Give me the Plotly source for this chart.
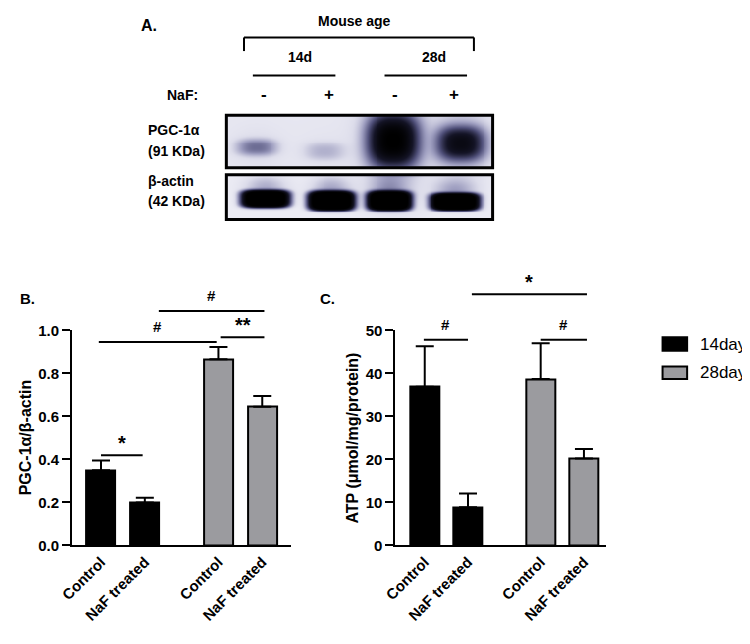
import numpy as np
import plotly.graph_objects as go

W, H = 750, 644
OFF = 8  # the page body margin shifts the figure by this many pixels
FW, FH = W - OFF, H - OFF

# ---- data ----
groups = ["Control", "NaF treated", "Control", "NaF treated"]
bar_x = [0, 1, 2.68, 3.68]

pgc_14 = [0.35, 0.20]
pgc_14_err = [0.045, 0.022]
pgc_28 = [0.866, 0.645]
pgc_28_err = [0.057, 0.050]

atp_14 = [36.9, 8.9]
atp_14_err = [9.4, 3.2]
atp_28 = [38.7, 20.2]
atp_28_err = [8.3, 2.2]

# relative band darkness on the blot, lanes: 14d -, 14d +, 28d -, 28d +
pgc_band = [0.22, 0.09, 1.0, 0.7]
actin_band = [0.9, 1.0, 1.0, 1.0]

FONT = "Arial, Liberation Sans, sans-serif"
BLACK = "#000000"
GREY = "#9b9b9f"


def px(x, y):
    return (x - OFF) / FW, 1 - (y - OFF) / FH


# ---- panel geometry (pixels in the reference) ----
b_left, b_right = 60, 283
c_left, c_right = 389, 603
ax_top, ax_bot = 330, 551
ydom = [px(0, ax_bot)[1], px(0, ax_top)[1]]
xr = [-0.66, 4.34]
xr_c = [-0.68, 4.18]

fig = go.Figure()


def add_bars(xa, ya, v14, e14, v28, e28):
    for xs, vals, errs, col in [(bar_x[:2], v14, e14, BLACK), (bar_x[2:], v28, e28, GREY)]:
        fig.add_trace(go.Bar(
            x=xs, y=vals, width=0.66, xaxis=xa, yaxis=ya,
            marker=dict(color=col, line=dict(color=BLACK, width=2)),
            error_y=dict(type="data", array=errs, arrayminus=[0] * len(errs), symmetric=False,
                         color=BLACK, thickness=2, width=9),
            showlegend=False))


add_bars("x", "y", pgc_14, pgc_14_err, pgc_28, pgc_28_err)
add_bars("x2", "y2", atp_14, atp_14_err, atp_28, atp_28_err)

xcommon = dict(tickvals=bar_x, ticktext=groups, tickangle=-45, ticks="",
               showline=True, linewidth=2, linecolor=BLACK, showgrid=False, zeroline=False,
               tickfont=dict(family=FONT, size=15, color=BLACK, weight="bold"), fixedrange=True)
ycommon = dict(domain=ydom, ticks="outside", ticklen=8, tickwidth=2, tickcolor=BLACK,
               showline=True, linewidth=2, linecolor=BLACK, showgrid=False, zeroline=False,
               tickfont=dict(family=FONT, size=15, color=BLACK, weight="bold"))

fig.update_layout(
    xaxis=dict(domain=[px(b_left, 0)[0], px(b_right, 0)[0]], range=xr, anchor="y", **xcommon),
    yaxis=dict(range=[0, 1], dtick=0.2, tickformat=".1f", anchor="x", **ycommon),
    xaxis2=dict(domain=[px(c_left, 0)[0], px(c_right, 0)[0]], range=xr_c, anchor="y2", **xcommon),
    yaxis2=dict(range=[0, 50], dtick=10, anchor="x2", **ycommon),
)

# ---- blot (panel A) ----
blot_l, blot_r, blot_t, blot_b = 217, 488, 109, 216
box1_b, box2_t = 163, 170
bw, bh = blot_r - blot_l, blot_b - blot_t
gx = np.arange(bw) + 0.5
gy = np.arange(bh) + 0.5
GX, GY = np.meshgrid(gx, gy)

pgc_geom = [(31, 33, 19, 8), (100, 37, 20, 9), (170, 26, 23, 24), (239, 29, 22, 16)]
actin_geom = [(40, 86, 22, 8), (107, 88, 21, 9), (166, 88, 20, 9), (233, 89, 22, 8)]


def band(cx, cy, a, b, p=2.6):
    return np.exp(-(np.abs((GX - cx) / a) ** p + np.abs((GY - cy) / b) ** p))


dens = np.zeros_like(GX)
for k, (cx, cy, a, b) in enumerate(pgc_geom):
    dens += pgc_band[k] * band(cx, cy, a, b)
    dens += 0.12 * pgc_band[k] * band(cx, cy, a * 1.3, b * 2.5, 2)
for k, (cx, cy, a, b) in enumerate(actin_geom):
    dens += 2.5 * actin_band[k] * band(cx, cy, a, b, 4)
    dens += 0.14 * actin_band[k] * band(cx, cy - 11, a * 0.9, b * 1.5, 2)
z = 1 - np.exp(-2.2 * dens)
z = np.clip(z + 0.09 * (GY < box1_b - blot_t) + 0.06 * (GY > box2_t - blot_t), 0, 1)
z[(GY > box1_b - blot_t) & (GY < box2_t - blot_t)] = np.nan

fig.add_trace(go.Heatmap(
    x=gx, y=gy, z=z, xaxis="x3", yaxis="y3", zmin=0, zmax=1, showscale=False,
    hoverinfo="skip",
    colorscale=[[0, "#f7f7fb"], [0.15, "#dcdcea"], [0.35, "#9e9ec0"], [0.6, "#50507a"],
                [0.82, "#141426"], [1, "#000000"]]))
fig.update_layout(
    xaxis3=dict(domain=[px(blot_l, 0)[0], px(blot_r, 0)[0]], range=[0, bw], visible=False, anchor="y3"),
    yaxis3=dict(domain=[px(0, blot_b)[1], px(0, blot_t)[1]], range=[bh, 0], visible=False, anchor="x3"),
)

shapes = []
for (t, b) in [(blot_t, box1_b), (box2_t, blot_b)]:
    x0, y0 = px(blot_l, b)
    x1, y1 = px(blot_r, t)
    shapes.append(dict(type="rect", xref="paper", yref="paper", x0=x0, y0=y0, x1=x1, y1=y1,
                       line=dict(color=BLACK, width=3)))


def pline(x0, y0, x1, y1, w=2):
    a, b = px(x0, y0)
    c, d = px(x1, y1)
    shapes.append(dict(type="line", xref="paper", yref="paper", x0=a, y0=b, x1=c, y1=d,
                       line=dict(color=BLACK, width=w)))


# bracket "Mouse age" and age lines
pline(235, 43, 235, 29)
pline(235, 29, 469, 29)
pline(469, 29, 469, 43)
pline(244, 68, 328, 68)
pline(378, 68, 462, 68)

annotations = []


def ptext(x, y, s, size=14, bold=True, anchor="center", angle=0):
    a, b = px(x, y)
    annotations.append(dict(x=a, y=b, xref="paper", yref="paper", text=s, showarrow=False,
                            xanchor=anchor, yanchor="middle", textangle=angle,
                            font=dict(family=FONT, size=size, color=BLACK,
                                      weight="bold" if bold else "normal")))


ptext(138, 17, "A.", 16)
ptext(347, 12, "Mouse age", 14)
ptext(292, 49, "14d", 14)
ptext(428, 49, "28d", 14)
ptext(172, 88, "NaF:", 14)
for xl, s in zip([255, 322, 389, 449], ["-", "+", "-", "+"]):
    ptext(xl, 88, s, 17)
ptext(135, 124, "PGC-1α", 14, anchor="left")
ptext(135, 146, "(91 KDa)", 14, anchor="left")
ptext(135, 177, "β-actin", 14, anchor="left")
ptext(135, 197, "(42 KDa)", 14, anchor="left")

ptext(15, 297, "B.", 15)
ptext(320, 297, "C.", 15)
ptext(13, 440, "PGC-1α/β-actin", 16, angle=-90)
ptext(345, 441, "ATP (μmol/mg/protein)", 16, angle=-90)


# significance marks given in data units of each panel
def to_px(xv, yv, left, right, rng, ymax):
    xp = left + (xv - rng[0]) / (rng[1] - rng[0]) * (right - left)
    yp = ax_bot - yv / ymax * (ax_bot - ax_top)
    return xp, yp


sig_b = [(-0.05, 2.64, 0.946, "#"), (1.32, 3.73, 1.09, "#"), (2.73, 3.73, 0.968, "**"), (0.0, 0.95, 0.419, "*")]
sig_c = [(1.09, 3.75, 58.4, "*"), (-0.02, 1.0, 47.8, "#"), (2.68, 3.75, 47.8, "#")]

for marks, left, right, rng, ymax in [(sig_b, b_left, b_right, xr, 1.0), (sig_c, c_left, c_right, xr_c, 50)]:
    for x0, x1, yv, s in marks:
        a, yp = to_px(x0, yv, left, right, rng, ymax)
        c, _ = to_px(x1, yv, left, right, rng, ymax)
        pline(a, yp, c, yp, 2)
        sz = 20 if "*" in s else 15
        ptext((a + c) / 2, yp - (13 if "*" in s else 16), s, sz)

# legend
for yy0, yy1, col, lab in [(337, 351, BLACK, "14day"), (367, 380, GREY, "28day")]:
    a, b = px(661, yy1)
    c, d = px(686, yy0)
    shapes.append(dict(type="rect", xref="paper", yref="paper", x0=a, y0=b, x1=c, y1=d,
                       fillcolor=col, line=dict(color=BLACK, width=2)))
    ptext(697, (yy0 + yy1) / 2, lab, 17, bold=False, anchor="left")

fig.update_layout(
    width=FW, height=FH, margin=dict(l=0, r=0, t=0, b=0),
    paper_bgcolor="white", plot_bgcolor="white",
    shapes=shapes, annotations=annotations, bargap=0,
)

fig.write_html("out.html")
